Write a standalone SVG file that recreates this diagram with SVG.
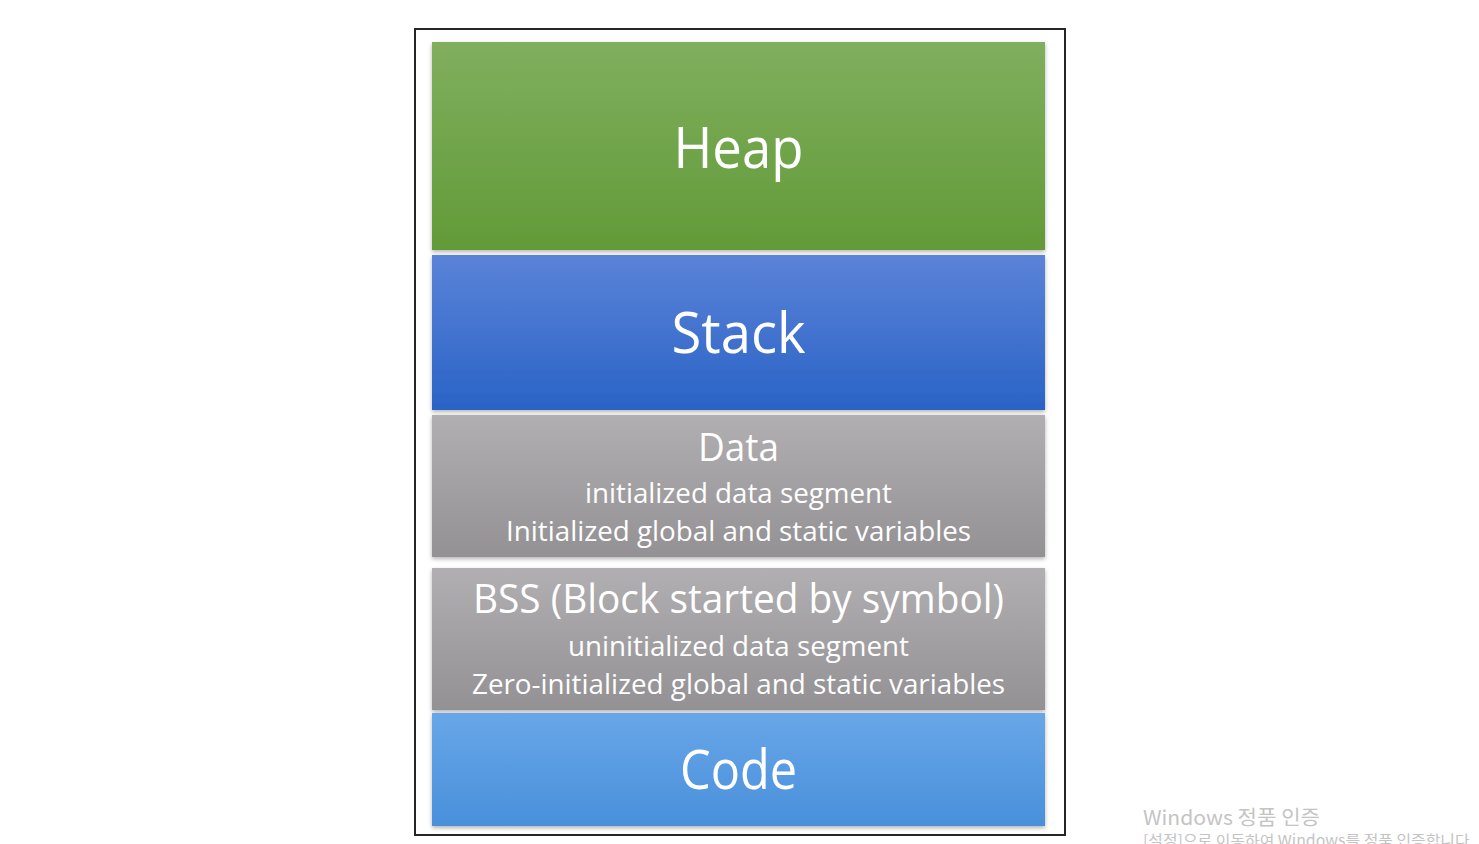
<svg xmlns="http://www.w3.org/2000/svg" width="1479" height="844" viewBox="0 0 1479 844">
<defs>
<linearGradient id="gHeap" x1="0" y1="0" x2="0" y2="1"><stop offset="0" stop-color="#80af5e"/><stop offset="1" stop-color="#629a38"/></linearGradient>
<linearGradient id="gStack" x1="0" y1="0" x2="0" y2="1"><stop offset="0" stop-color="#5b83d8"/><stop offset="1" stop-color="#2a63c6"/></linearGradient>
<linearGradient id="gGray" x1="0" y1="0" x2="0" y2="1"><stop offset="0" stop-color="#b1afb1"/><stop offset="1" stop-color="#939193"/></linearGradient>
<linearGradient id="gCode" x1="0" y1="0" x2="0" y2="1"><stop offset="0" stop-color="#68a6e8"/><stop offset="1" stop-color="#4990db"/></linearGradient>
<filter id="sh" x="-5%" y="-10%" width="110%" height="125%"><feDropShadow dx="0" dy="2" stdDeviation="2" flood-color="#000" flood-opacity="0.3"/></filter>
</defs>
<style>
.t{font-family:"Open Sans","Noto Sans",sans-serif;fill:#ffffff;text-anchor:middle}
.wm{font-family:"Noto Sans CJK KR","Noto Sans",sans-serif;fill:#c4c4c4}
</style>
<rect width="1479" height="844" fill="#ffffff"/>
<rect id="frame" x="415" y="29" width="650" height="806" fill="none" stroke="#262626" stroke-width="2"/>
<g id="heap"><rect x="432" y="42" width="613" height="208" fill="url(#gHeap)" filter="url(#sh)"/><text class="t" x="738.5" y="168" font-size="56" textLength="130" lengthAdjust="spacingAndGlyphs">Heap</text></g>
<g id="stack"><rect x="432" y="255" width="613" height="155" fill="url(#gStack)" filter="url(#sh)"/><text class="t" x="738.5" y="353" font-size="56" textLength="134" lengthAdjust="spacingAndGlyphs">Stack</text></g>
<g id="data"><rect x="432" y="415" width="613" height="142" fill="url(#gGray)" filter="url(#sh)"/>
<text class="t" x="738.5" y="461" font-size="38" textLength="81" lengthAdjust="spacingAndGlyphs">Data</text>
<text class="t" x="738.5" y="503" font-size="27" textLength="307" lengthAdjust="spacingAndGlyphs">initialized data segment</text>
<text class="t" x="738.5" y="541" font-size="27" textLength="465" lengthAdjust="spacingAndGlyphs">Initialized global and static variables</text></g>
<g id="bss"><rect x="432" y="568" width="613" height="142" fill="url(#gGray)" filter="url(#sh)"/>
<text class="t" x="738.5" y="613" font-size="41" textLength="531" lengthAdjust="spacingAndGlyphs">BSS (Block started by symbol)</text>
<text class="t" x="738.5" y="656" font-size="27" textLength="341" lengthAdjust="spacingAndGlyphs">uninitialized data segment</text>
<text class="t" x="738.5" y="694" font-size="27" textLength="533" lengthAdjust="spacingAndGlyphs">Zero-initialized global and static variables</text></g>
<g id="code"><rect x="432" y="713" width="613" height="113" fill="url(#gCode)" filter="url(#sh)"/><text class="t" x="738.5" y="789" font-size="54" textLength="117" lengthAdjust="spacingAndGlyphs">Code</text></g>
<g id="connectors"/>
<text class="wm" x="1143" y="825" font-size="20" textLength="177" lengthAdjust="spacingAndGlyphs">Windows 정품 인증</text>
<text class="wm" x="1143" y="846" font-size="15" textLength="331" lengthAdjust="spacingAndGlyphs">[설정]으로 이동하여 Windows를 정품 인증합니다.</text>
</svg>
